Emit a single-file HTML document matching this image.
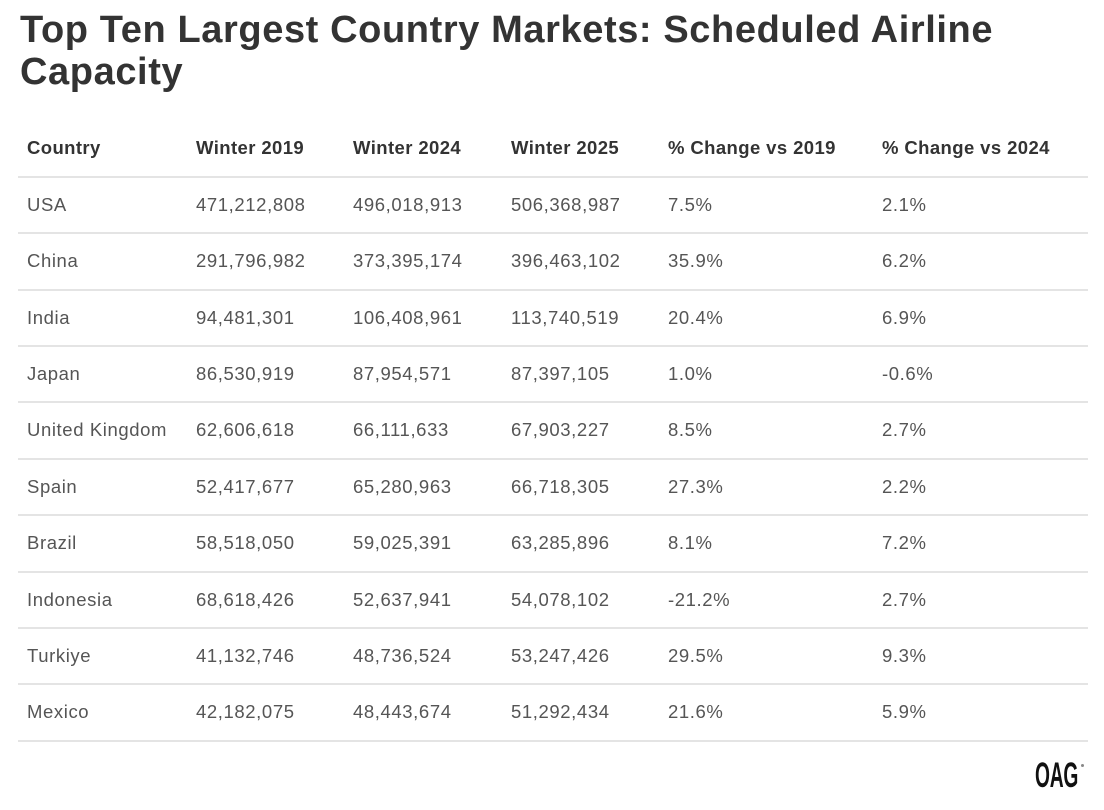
<!DOCTYPE html>
<html>
<head>
<meta charset="utf-8">
<style>
  html, body { margin:0; padding:0; }
  body { width:1104px; height:810px; background:#ffffff; position:relative; overflow:hidden;
         font-family:"Liberation Sans", Arial, sans-serif; }
  .title { position:absolute; left:20px; top:9px; font-size:38px; font-weight:bold; color:#333333;
           line-height:42px; letter-spacing:0.6px; white-space:nowrap; }
  .line { position:absolute; left:18px; width:1070px; height:2px; background:#e4e4e4; }
  .row { position:absolute; left:0; width:1104px; height:56.4px; line-height:56.4px; }
  .row span { position:absolute; top:0; white-space:nowrap; font-size:18.5px; color:#555555; letter-spacing:0.6px; }
  .hdr span { font-weight:bold; color:#333333; letter-spacing:0.4px; }
  .c0 { left:27px; } .c1 { left:196px; } .c2 { left:353px; } .c3 { left:511px; } .c4 { left:668px; } .c5 { left:882px; }
  .logo { position:absolute; left:1035px; top:755px; font-size:35px; font-weight:bold; color:#111;
          line-height:42px; transform:scale(0.55,1); transform-origin:0 0; white-space:nowrap; letter-spacing:-0.5px; }
  .reg { position:absolute; left:1081px; top:764px; width:3px; height:3px; border-radius:50%; background:#888; }
</style>
</head>
<body>
<div class="title">Top Ten Largest Country Markets: Scheduled Airline<br>Capacity</div>

<div class="row hdr" style="top:120px;"><span class="c0">Country</span><span class="c1">Winter 2019</span><span class="c2">Winter 2024</span><span class="c3">Winter 2025</span><span class="c4">% Change vs 2019</span><span class="c5">% Change vs 2024</span></div>

<div class="line" style="top:175.7px;"></div>
<div class="line" style="top:232.1px;"></div>
<div class="line" style="top:288.5px;"></div>
<div class="line" style="top:344.9px;"></div>
<div class="line" style="top:401.3px;"></div>
<div class="line" style="top:457.7px;"></div>
<div class="line" style="top:514.1px;"></div>
<div class="line" style="top:570.5px;"></div>
<div class="line" style="top:626.9px;"></div>
<div class="line" style="top:683.3px;"></div>
<div class="line" style="top:739.7px;"></div>

<div class="row" style="top:176.7px;"><span class="c0">USA</span><span class="c1">471,212,808</span><span class="c2">496,018,913</span><span class="c3">506,368,987</span><span class="c4">7.5%</span><span class="c5">2.1%</span></div>
<div class="row" style="top:233.1px;"><span class="c0">China</span><span class="c1">291,796,982</span><span class="c2">373,395,174</span><span class="c3">396,463,102</span><span class="c4">35.9%</span><span class="c5">6.2%</span></div>
<div class="row" style="top:289.5px;"><span class="c0">India</span><span class="c1">94,481,301</span><span class="c2">106,408,961</span><span class="c3">113,740,519</span><span class="c4">20.4%</span><span class="c5">6.9%</span></div>
<div class="row" style="top:345.9px;"><span class="c0">Japan</span><span class="c1">86,530,919</span><span class="c2">87,954,571</span><span class="c3">87,397,105</span><span class="c4">1.0%</span><span class="c5">-0.6%</span></div>
<div class="row" style="top:402.3px;"><span class="c0">United Kingdom</span><span class="c1">62,606,618</span><span class="c2">66,111,633</span><span class="c3">67,903,227</span><span class="c4">8.5%</span><span class="c5">2.7%</span></div>
<div class="row" style="top:458.7px;"><span class="c0">Spain</span><span class="c1">52,417,677</span><span class="c2">65,280,963</span><span class="c3">66,718,305</span><span class="c4">27.3%</span><span class="c5">2.2%</span></div>
<div class="row" style="top:515.1px;"><span class="c0">Brazil</span><span class="c1">58,518,050</span><span class="c2">59,025,391</span><span class="c3">63,285,896</span><span class="c4">8.1%</span><span class="c5">7.2%</span></div>
<div class="row" style="top:571.5px;"><span class="c0">Indonesia</span><span class="c1">68,618,426</span><span class="c2">52,637,941</span><span class="c3">54,078,102</span><span class="c4">-21.2%</span><span class="c5">2.7%</span></div>
<div class="row" style="top:627.9px;"><span class="c0">Turkiye</span><span class="c1">41,132,746</span><span class="c2">48,736,524</span><span class="c3">53,247,426</span><span class="c4">29.5%</span><span class="c5">9.3%</span></div>
<div class="row" style="top:684.3px;"><span class="c0">Mexico</span><span class="c1">42,182,075</span><span class="c2">48,443,674</span><span class="c3">51,292,434</span><span class="c4">21.6%</span><span class="c5">5.9%</span></div>

<div class="logo">OAG</div>
<div class="reg"></div>
</body>
</html>
